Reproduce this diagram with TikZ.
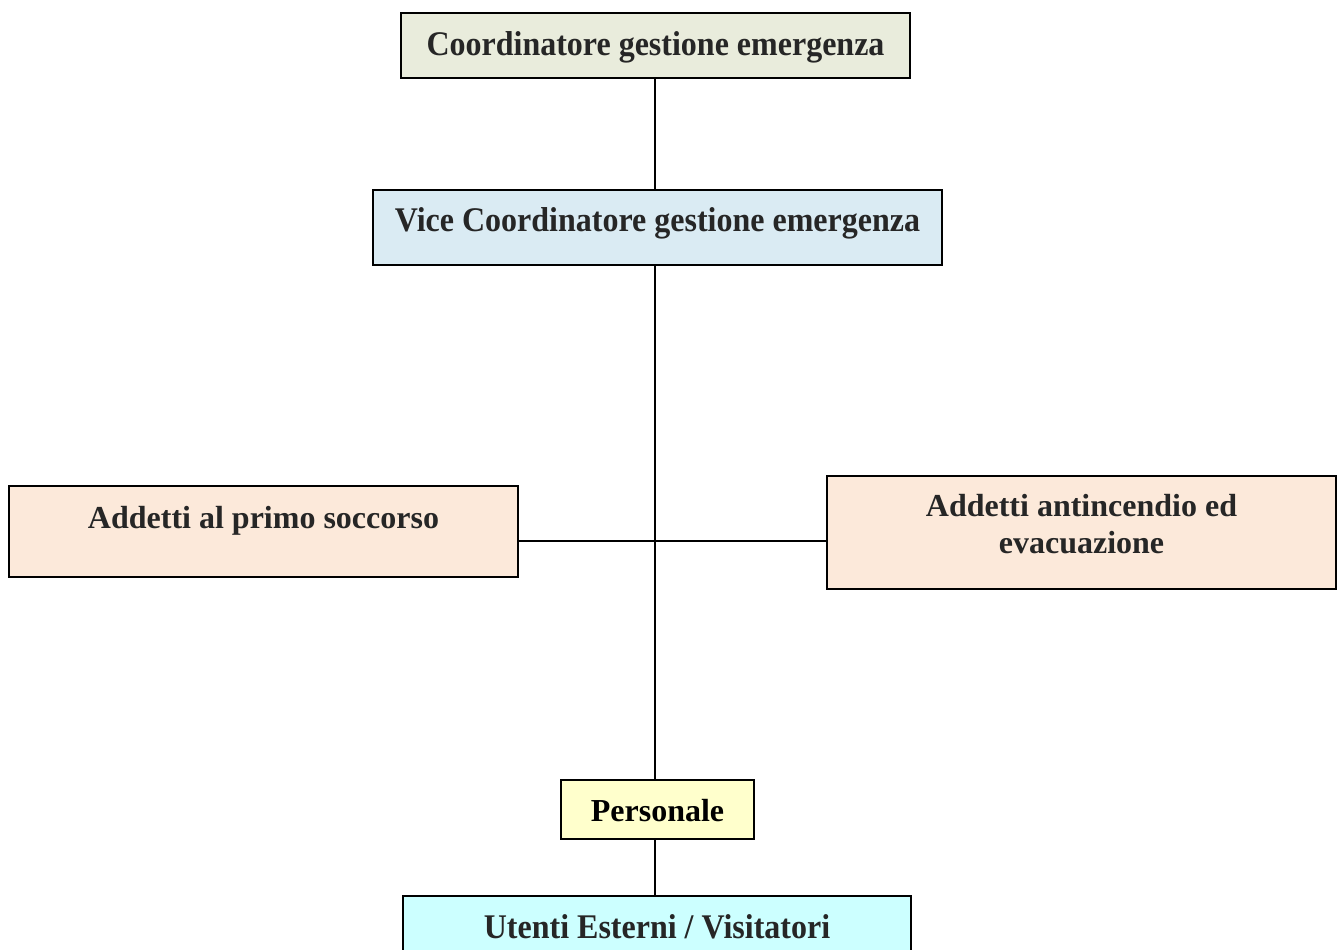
\documentclass[tikz,border=0pt]{standalone}
\usepackage{fontspec}
\setmainfont{Liberation Serif}
\usepackage{graphicx}
\definecolor{verdino}{HTML}{E9ECDC}
\definecolor{azzurrino}{HTML}{DAEBF3}
\definecolor{pesca}{HTML}{FCE9DA}
\definecolor{giallino}{HTML}{FFFFCC}
\definecolor{ciano}{HTML}{CCFFFF}
\newcommand{\alto}[2]{\scalebox{1}[#1]{#2}}
\tikzstyle{riquadro} = [draw=black, line width=2pt, rectangle, inner sep=0pt, align=center, font=\bfseries\fontsize{32}{37}\selectfont, text=black!85]
\tikzstyle{collegamento} = [draw=black, line width=1.8pt]

\begin{document}
\begin{tikzpicture}[x=1pt,y=-1pt]
	\useasboundingbox (0,0) rectangle (1341,950);
	\clip (0,0) rectangle (1341,950);
	\node [riquadro, fill=verdino, minimum width=509pt, text height=43pt, text depth=22pt] (coordinatore) at (655.5,45.5) {\alto{1.08}{Coordinatore gestione emergenza}};
	\node [riquadro, fill=azzurrino, minimum width=569pt, text height=41pt, text depth=34pt] (vice) at (657.5,227.5) {\alto{1.08}{Vice Coordinatore gestione emergenza}};
	\node [riquadro, fill=pesca, minimum width=509pt, text height=42.3pt, text depth=48.7pt] (primo) at (263.5,531.5) {Addetti al primo soccorso};
	\node [riquadro, fill=pesca, minimum width=509pt, text height=77pt, text depth=36pt] (antincendio) at (1081.5,532.5) {Addetti antincendio ed\\evacuazione};
	\node [riquadro, fill=giallino, minimum width=193pt, text height=41.7pt, text depth=17.3pt, text=black] (personale) at (657.5,809.5) {Personale};
	\node [riquadro, fill=ciano, minimum width=508pt, text height=42pt, text depth=22pt] (utenti) at (657,928) {\alto{1.08}{Utenti Esterni / Visitatori}};
	% linee dell'organigramma
	\coordinate (asse) at (655,541);
	\draw [collegamento] (coordinatore.south -| asse) -- (vice.north -| asse);
	\draw [collegamento] (vice.south -| asse) -- (personale.north -| asse);
	\draw [collegamento] (primo.east |- asse) -- (antincendio.west |- asse);
	\draw [collegamento] (personale.south -| asse) -- (utenti.north -| asse);
\end{tikzpicture}
\end{document}
